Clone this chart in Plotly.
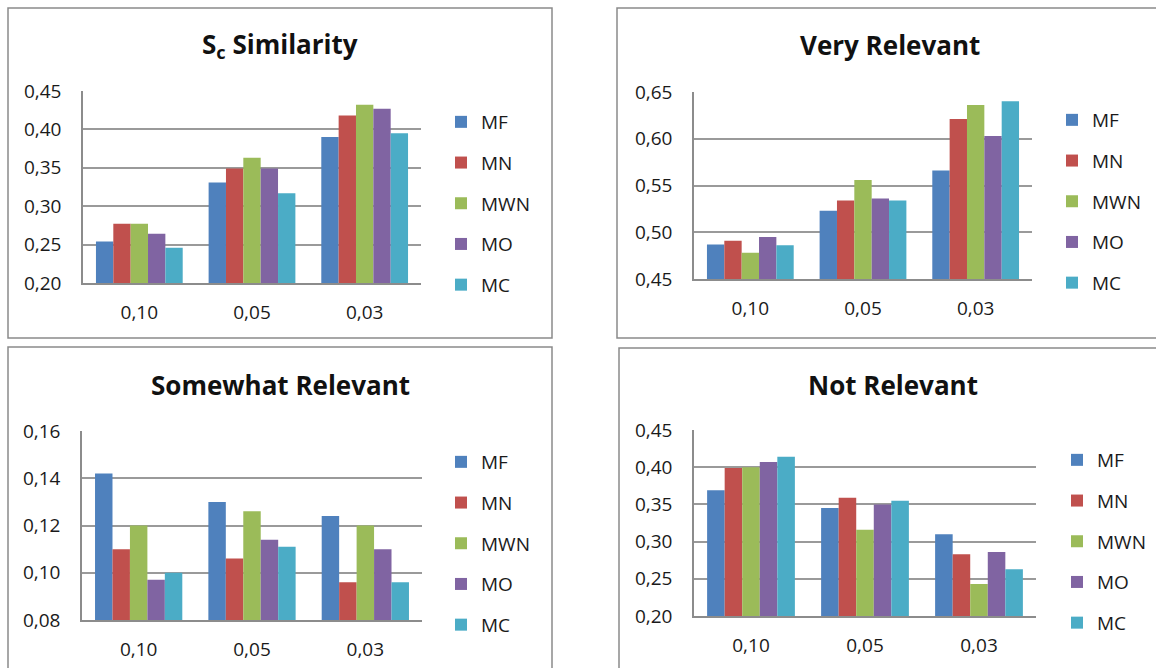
import plotly.graph_objects as go

W, H = 1156, 668

categories = ["0,10", "0,05", "0,03"]
series = ["MF", "MN", "MWN", "MO", "MC"]
colors = ["#4F81BD", "#C0504D", "#9BBB59", "#8064A2", "#4BACC6"]

# S_c Similarity
sim_MF = [0.254, 0.331, 0.390]
sim_MN = [0.277, 0.349, 0.418]
sim_MWN = [0.277, 0.363, 0.432]
sim_MO = [0.264, 0.349, 0.427]
sim_MC = [0.246, 0.317, 0.395]

# Very Relevant
vr_MF = [0.487, 0.523, 0.566]
vr_MN = [0.491, 0.534, 0.621]
vr_MWN = [0.478, 0.556, 0.636]
vr_MO = [0.495, 0.536, 0.603]
vr_MC = [0.486, 0.534, 0.640]

# Somewhat Relevant
sr_MF = [0.142, 0.130, 0.124]
sr_MN = [0.110, 0.106, 0.096]
sr_MWN = [0.120, 0.126, 0.120]
sr_MO = [0.097, 0.114, 0.110]
sr_MC = [0.100, 0.111, 0.096]

# Not Relevant
nr_MF = [0.369, 0.345, 0.310]
nr_MN = [0.399, 0.359, 0.283]
nr_MWN = [0.400, 0.316, 0.243]
nr_MO = [0.407, 0.350, 0.286]
nr_MC = [0.414, 0.355, 0.263]

titles = ["S<sub>c</sub> Similarity", "Very Relevant", "Somewhat Relevant", "Not Relevant"]
y_ticks = [
    [0.20, 0.25, 0.30, 0.35, 0.40, 0.45],
    [0.45, 0.50, 0.55, 0.60, 0.65],
    [0.08, 0.10, 0.12, 0.14, 0.16],
    [0.20, 0.25, 0.30, 0.35, 0.40, 0.45],
]
panel_values = [
    [sim_MF, sim_MN, sim_MWN, sim_MO, sim_MC],
    [vr_MF, vr_MN, vr_MWN, vr_MO, vr_MC],
    [sr_MF, sr_MN, sr_MWN, sr_MO, sr_MC],
    [nr_MF, nr_MN, nr_MWN, nr_MO, nr_MC],
]

# layout geometry in pixels
plot_boxes = [  # x0, x1, ytop, ybottom
    (83, 421, 91, 283),
    (694, 1032, 92, 279),
    (82, 422, 431, 620),
    (694, 1036, 430, 616),
]
frames = [(8, 552, 8, 338), (617, 1170, 8, 338), (8, 552, 347, 680), (619, 1170, 348, 680)]
title_pos = [(280, 45), (890, 45), (280, 385), (893, 385)]
legend_pos = [(441, 103), (1052, 101), (441, 443), (1057, 441)]

FONT = "Open Sans"
TXT = "#1a1a1a"
fig = go.Figure()

for p in range(4):
    xa = "x" if p == 0 else f"x{p+1}"
    ya = "y" if p == 0 else f"y{p+1}"
    lg = "legend" if p == 0 else f"legend{p+1}"
    for s, name in enumerate(series):
        fig.add_trace(go.Bar(
            x=categories, y=panel_values[p][s], name=name,
            marker=dict(color=colors[s], line=dict(width=0)),
            xaxis=xa, yaxis=ya, legend=lg, legendgroup=f"{p}-{name}",
            showlegend=True,
        ))

layout = dict(
    width=W, height=H,
    margin=dict(l=0, r=0, t=0, b=0, pad=0, autoexpand=False),
    paper_bgcolor="white", plot_bgcolor="white",
    separators=", ",
    barmode="group", bargap=0.23, bargroupgap=0.0,
    font=dict(family=FONT, size=19, color=TXT),
    showlegend=True,
)

shapes = []
annotations = []
for p in range(4):
    x0, x1, yt, yb = plot_boxes[p]
    xk = "xaxis" if p == 0 else f"xaxis{p+1}"
    yk = "yaxis" if p == 0 else f"yaxis{p+1}"
    anchor_x = "y" if p == 0 else f"y{p+1}"
    anchor_y = "x" if p == 0 else f"x{p+1}"
    ticks = y_ticks[p]
    layout[xk] = dict(
        domain=[x0 / W, x1 / W], anchor=anchor_x, automargin=False,
        showline=True, linecolor="#8c8c8c", linewidth=1.5,
        ticks="", showgrid=False, ticklabelstandoff=11,
        tickfont=dict(family=FONT, size=19, color=TXT),
        fixedrange=True,
    )
    layout[yk] = dict(
        domain=[1 - yb / H, 1 - yt / H], anchor=anchor_y, automargin=False,
        range=[ticks[0], ticks[-1] + 1e-6],
        tickvals=ticks, tickformat=".2f",
        showline=True, linecolor="#8c8c8c", linewidth=1.5,
        showgrid=True, gridcolor="#9a9a9a", gridwidth=1.5,
        zeroline=False, ticks="", ticklabelstandoff=16,
        tickfont=dict(family=FONT, size=19, color=TXT),
        fixedrange=True,
    )
    lk = "legend" if p == 0 else f"legend{p+1}"
    lx, ly = legend_pos[p]
    layout[lk] = dict(
        x=lx / W, y=1 - ly / H, xanchor="left", yanchor="top",
        orientation="v", tracegroupgap=13, traceorder="grouped",
        font=dict(family=FONT, size=19, color=TXT),
        bgcolor="rgba(0,0,0,0)", itemclick=False, itemdoubleclick=False,
    )
    fx0, fx1, fy0, fy1 = frames[p]
    shapes.append(dict(type="rect", xref="paper", yref="paper",
                       x0=fx0 / W, x1=fx1 / W, y0=1 - fy1 / H, y1=1 - fy0 / H,
                       line=dict(color="#8a8a8a", width=1.5), fillcolor="rgba(0,0,0,0)",
                       layer="below"))
    tx, ty = title_pos[p]
    annotations.append(dict(text=f"<b>{titles[p]}</b>", xref="paper", yref="paper",
                            x=tx / W, y=1 - ty / H, xanchor="center", yanchor="middle",
                            showarrow=False, font=dict(family=FONT, size=26, color="#111111")))

layout["shapes"] = shapes
layout["annotations"] = annotations
fig.update_layout(**layout)

fig.write_html("out.html", config={"responsive": False, "displayModeBar": False},
               post_script="document.body.style.margin='0px';document.body.style.overflow='hidden';")
